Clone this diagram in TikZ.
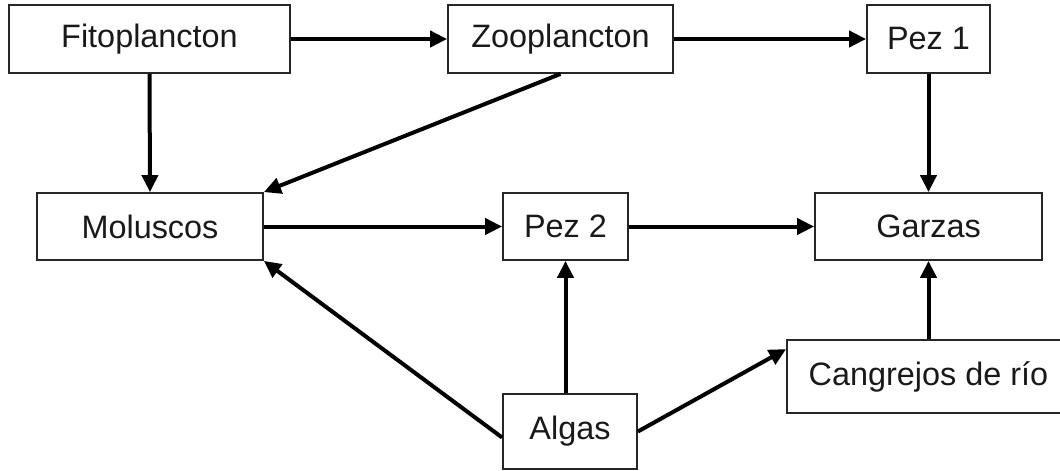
\documentclass[tikz,border=0pt]{standalone}
\usepackage{fontspec}
\setmainfont{Liberation Sans}
\usetikzlibrary{arrows.meta}
\begin{document}
\begin{tikzpicture}[x=0.5pt,y=-0.5pt,
  box/.style={draw=black!85, line width=0.9pt, rectangle, inner sep=0pt,
    minimum height=34pt, font=\fontsize{16.2}{19}\selectfont, text=black!90},
  arr/.style={line width=2pt, -{Triangle[length=8.5pt,width=8pt]}}]
\useasboundingbox (0,0) rectangle (1060,471);
\node[box, minimum width=140.5pt] (fito) at (149.5,39) {Fitoplancton};
\node[box, minimum width=112.5pt] (zoo) at (560.5,39) {Zooplancton};
\node[box, minimum width=61.5pt] (pez1) at (928.5,39) {Pez 1};
\node[box, minimum width=113pt, minimum height=33.5pt] (mol) at (150,226.5) {Moluscos};
\node[box, minimum width=62.5pt, minimum height=33.5pt] (pez2) at (565.5,226.5) {Pez 2};
\node[box, minimum width=113.5pt, minimum height=33.5pt] (gar) at (928.5,226.5) {Garzas};
\node[box, minimum width=141.5pt, minimum height=36.5pt] (can) at (928.5,376.5) {Cangrejos de río};
\node[box, minimum width=67pt, minimum height=37.5pt] (alg) at (570,431.5) {Algas};
\coordinate (canin) at ([yshift=-5pt]can.north west);
\coordinate (algw) at ([yshift=-3pt]alg.west);
\draw[arr] (fito.east) -- (zoo.west);
\draw[arr] (zoo.east) -- (pez1.west);
\draw[arr] (fito.south) -- (mol.north);
\draw[arr] (zoo.south) -- (mol.north east);
\draw[arr] (pez1.south) -- (gar.north);
\draw[arr] (mol.east) -- (pez2.west);
\draw[arr] (pez2.east) -- (gar.west);
\draw[arr] (alg.north -| pez2.south) -- (pez2.south);
\draw[arr] (algw) -- (mol.south east);
\draw[arr] (alg.east) -- (canin);
\draw[arr] (can.north -| gar.south) -- (gar.south);
\end{tikzpicture}
\end{document}
